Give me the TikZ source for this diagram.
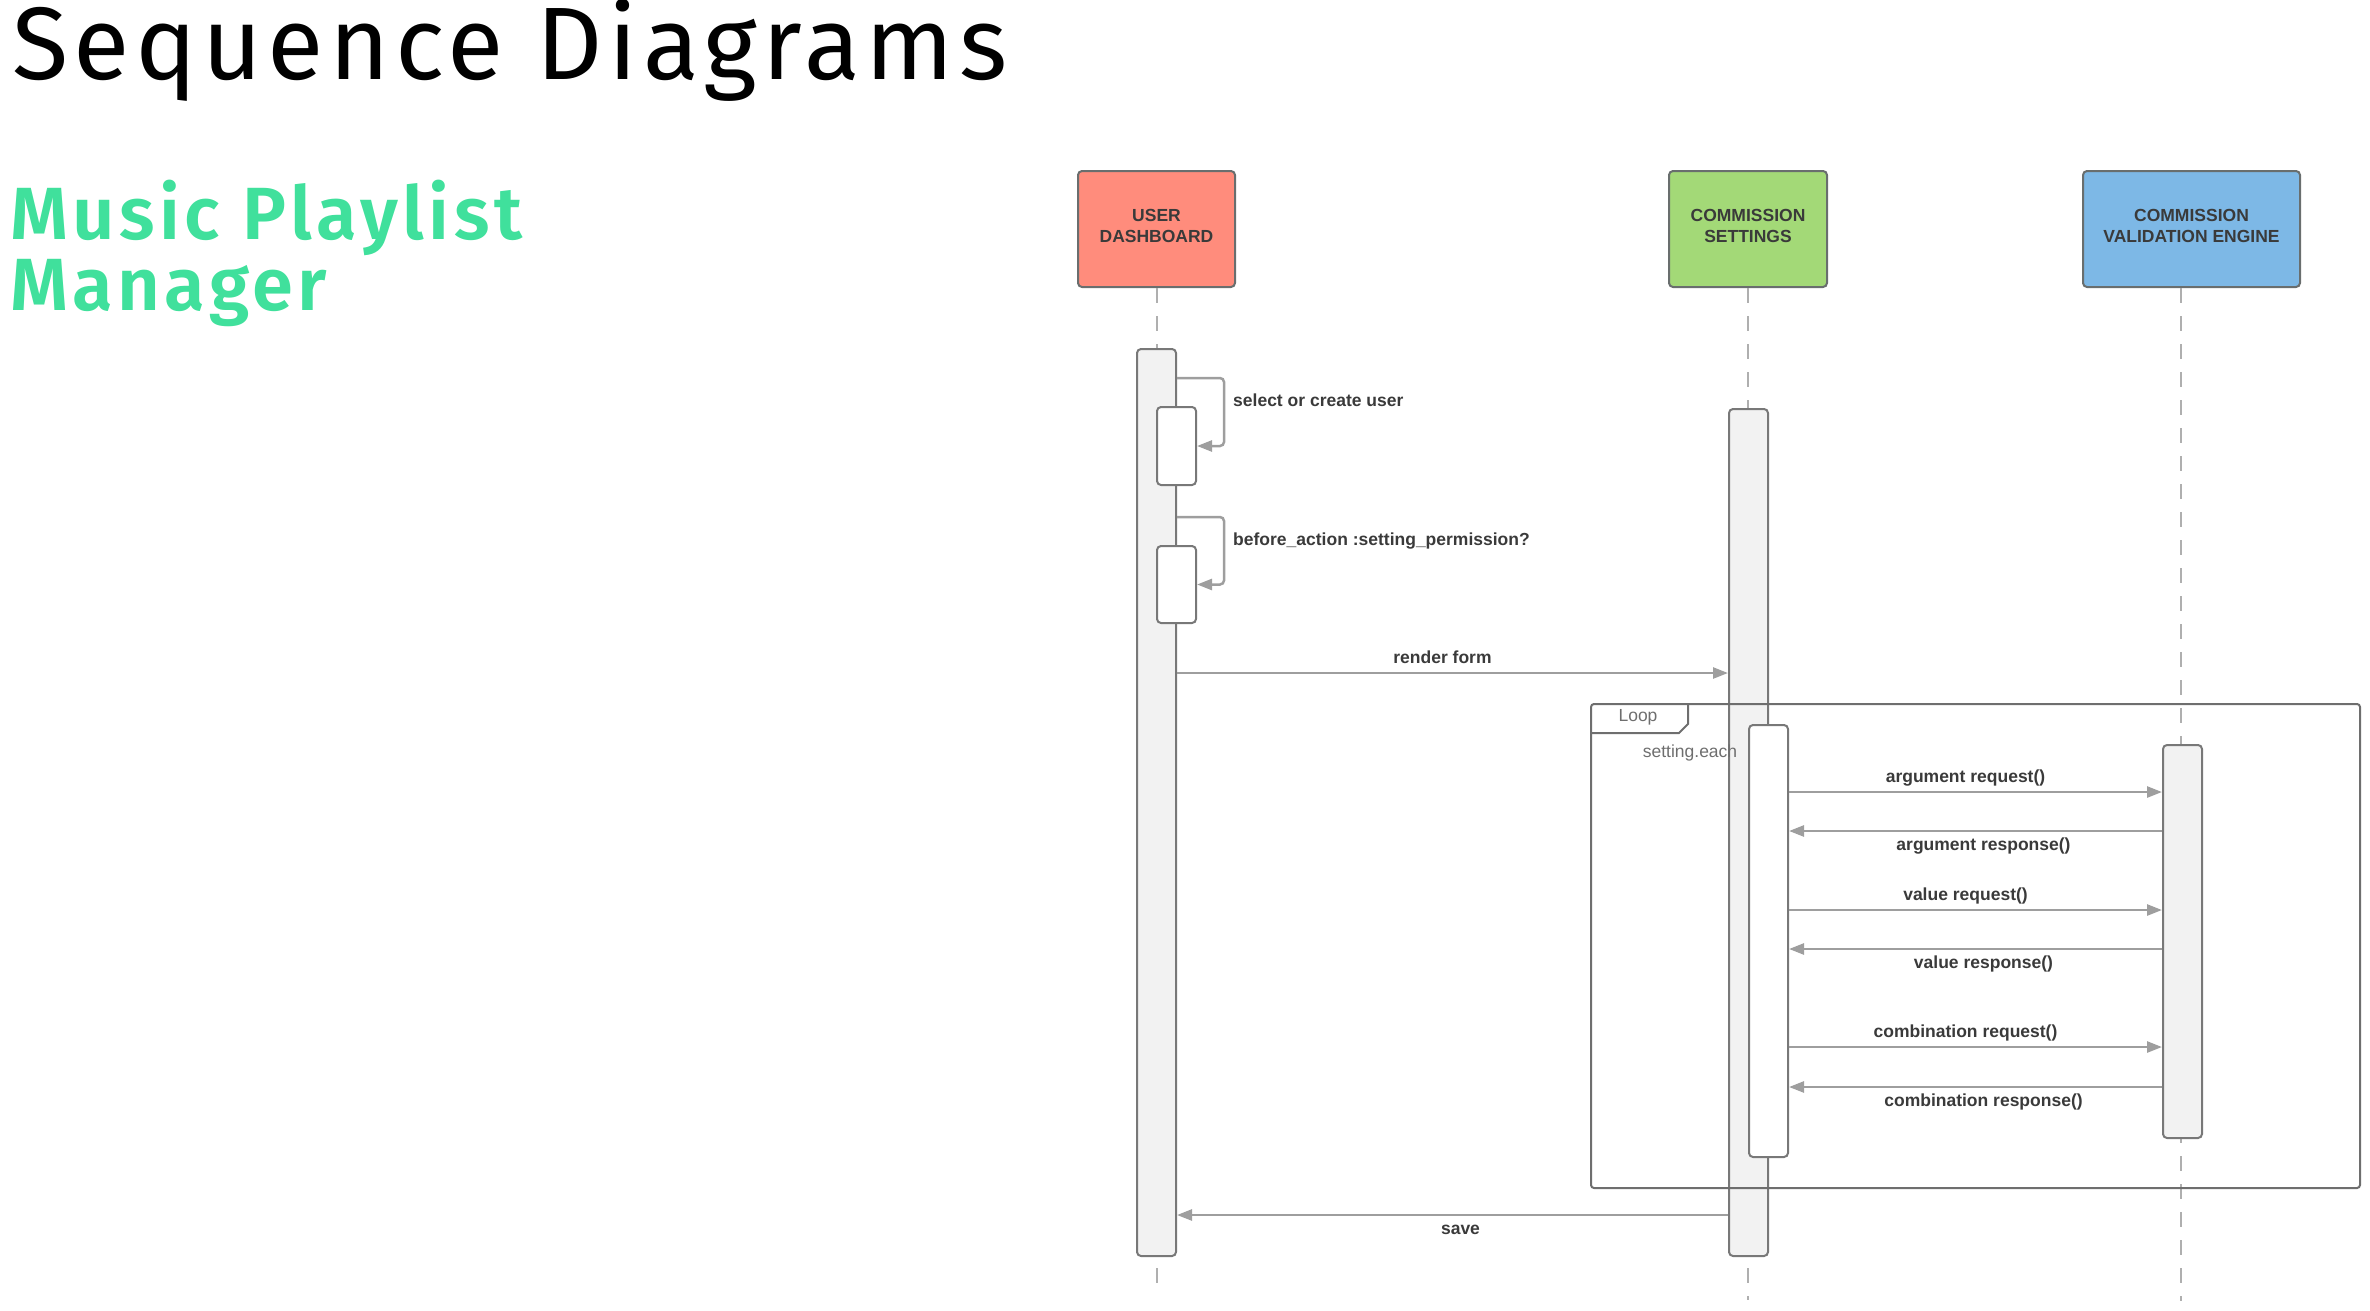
\documentclass[tikz,border=0pt]{standalone}
\usepackage{fontspec}
\setmainfont{Liberation Sans}
\IfFontExistsTF{Fira Sans Book}
  {\newfontfamily\titlefont{Fira Sans Book}[LetterSpace=5.3]}
  {\newfontfamily\titlefont{Fira Sans}[LetterSpace=5.3]}
\IfFontExistsTF{Fira Sans SemiBold}
  {\newfontfamily\subtitlefont{Fira Sans SemiBold}[LetterSpace=6]}
  {\newfontfamily\subtitlefont{Fira Sans}[LetterSpace=6]}
\usetikzlibrary{arrows.meta, positioning, calc}

\definecolor{userred}{RGB}{255,140,124}
\definecolor{settinggreen}{RGB}{163,217,119}
\definecolor{engineblue}{RGB}{125,184,230}
\definecolor{titlegreen}{RGB}{64,224,156}
\definecolor{boxline}{RGB}{105,110,110}
\definecolor{labeltext}{RGB}{58,58,58}
\definecolor{msggray}{RGB}{158,158,158}
\definecolor{bargray}{RGB}{120,120,120}
\definecolor{barfill}{RGB}{242,242,242}
\definecolor{dashgray}{RGB}{175,175,175}
\definecolor{framegray}{RGB}{110,110,110}

\begin{document}
\begin{tikzpicture}[
    x=1pt, y=-1pt,
    actor/.style={rectangle, rounded corners=4pt, draw=boxline, line width=2pt,
        minimum height=116pt, align=center, text=labeltext, text depth=6pt,
        font=\fontsize{17.5}{21}\selectfont\bfseries},
    lifeline/.style={draw=dashgray, line width=2pt, dash pattern=on 15pt off 13pt},
    activebar/.style={rectangle, rounded corners=4pt, draw=bargray, line width=2pt,
        fill=barfill, minimum width=39pt, inner sep=0pt},
    selfbox/.style={activebar, fill=white},
    msg/.style={draw=msggray, line width=2.5pt, -{Triangle[length=15pt, width=11pt]}},
    msglabel/.style={inner sep=0pt, text height=13pt, text depth=4pt, text=labeltext,
        font=\fontsize{17.5}{21}\selectfont\bfseries},
    toplabel/.style={msglabel, above=4.5pt, xshift=-10pt},
    botlabel/.style={msglabel, below=5.5pt, xshift=8pt},
    note/.style={inner sep=0pt, text=framegray, font=\fontsize{17.5}{21}\selectfont}
]
    \useasboundingbox (0,0) rectangle (2370,1310);

    % Titles
    \node[anchor=base west, inner sep=0pt, font=\titlefont\fontsize{103}{110}\selectfont] (title) at (12,79) {Sequence Diagrams};
    \node[anchor=base west, inner sep=0pt, text=titlegreen, font=\subtitlefont\fontsize{74}{80}\selectfont] (sub1) at (10,239) {Music Playlist};
    \node[anchor=base west, inner sep=0pt, text=titlegreen, font=\subtitlefont\fontsize{74}{80}\selectfont] (sub2) at (10,310) {Manager};

    % Actors
    \node[actor, fill=userred, minimum width=157pt] (user) at (1156.5,229) {USER\\DASHBOARD};
    \node[actor, fill=settinggreen, minimum width=158pt] (settings) at (1748,229) {COMMISSION\\SETTINGS};
    \node[actor, fill=engineblue, minimum width=217pt] (engine) at (2191.5,229) {COMMISSION\\VALIDATION ENGINE};

    % Lifelines
    \draw[lifeline] (user.south) -- (user.south |- 0,1290);
    \draw[lifeline] (settings.south) -- (settings.south |- 0,1300);
    \draw[lifeline] ([xshift=-10.5pt]engine.south) -- ++(0,1013);

    % Activation bars
    \node[activebar, anchor=north, minimum height=907pt] (ubar) at (1156.5,348) {};
    \node[activebar, anchor=north, minimum height=847pt] (sbar) at (1748.5,408) {};

    % Self calls
    \node[selfbox, minimum height=78pt] (uself1) at (1176.5,446) {};
    \draw[msg, rounded corners=4pt] (ubar.east |- 0,378) -- (1224,378) |- (uself1.east);
    \node[msglabel, anchor=west] (selectlbl) at (1233,402) {select or create user};
    \node[selfbox, minimum height=77pt] (uself2) at (1176.5,584.5) {};
    \draw[msg, rounded corners=4pt] (ubar.east |- 0,517) -- (1224,517) |- (uself2.east);
    \node[msglabel, anchor=west] (beforelbl) at (1233,541) {before\_action :setting\_permission?};

    % Render form
    \draw[msg] (ubar.east |- 0,673) -- node[toplabel] (renderlbl) {render form} (sbar.west |- 0,673);

    % Loop frame
    \node[draw=framegray, line width=2pt, rounded corners=3pt, anchor=north west,
        minimum width=769pt, minimum height=484pt] (loop) at (1590,703) {};
    \draw[draw=framegray, line width=2pt] (loop.north west |- 0,733) -- (1679,733) -- (1688,724) -- (1688,703);
    \node[note] (looplbl) at (1638,717) {Loop};

    % Loop bars
    \node[selfbox, anchor=north, minimum height=432pt] (sinner) at (1768.5,724) {};
    \node[activebar, anchor=north, minimum height=393pt] (ebar) at (2182.5,744) {};
    \node[note] (eachlbl) at (1690,753) {setting.each};

    % Loop messages
    \draw[msg] (sinner.east |- 0,792) -- node[toplabel] (argreq) {argument request()} (ebar.west |- 0,792);
    \draw[msg] (ebar.west |- 0,831) -- node[botlabel] (argres) {argument response()} (sinner.east |- 0,831);
    \draw[msg] (sinner.east |- 0,910) -- node[toplabel] (valreq) {value request()} (ebar.west |- 0,910);
    \draw[msg] (ebar.west |- 0,949) -- node[botlabel] (valres) {value response()} (sinner.east |- 0,949);
    \draw[msg] (sinner.east |- 0,1047) -- node[toplabel] (combreq) {combination request()} (ebar.west |- 0,1047);
    \draw[msg] (ebar.west |- 0,1087) -- node[botlabel] (combres) {combination response()} (sinner.east |- 0,1087);

    % Save
    \draw[msg] (sbar.west |- 0,1215) -- node[botlabel] (savelbl) {save} (ubar.east |- 0,1215);
\end{tikzpicture}
\end{document}
